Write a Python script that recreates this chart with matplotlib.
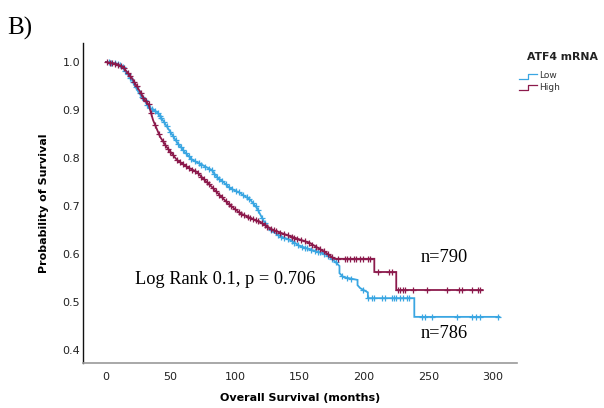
import numpy as np
import matplotlib
matplotlib.use("Agg")
import matplotlib.pyplot as plt
from matplotlib.lines import Line2D

# ---- data ----
low_t = [0, 8, 13, 16, 20, 25, 30, 33, 39.5, 44, 50, 55, 61, 67, 75, 82, 86, 91, 96,
         104, 112, 117, 121, 125, 129.5, 136, 143, 150, 160, 170, 176, 181, 181, 184,
         195, 195, 197, 203, 203, 239, 239, 305]
low_s = [1.0, 0.997, 0.99, 0.978, 0.963, 0.938, 0.92, 0.906, 0.896, 0.879, 0.854, 0.833,
         0.8125, 0.796, 0.785, 0.775, 0.76, 0.75, 0.7375, 0.727, 0.7125, 0.696, 0.675,
         0.656, 0.646, 0.636, 0.629, 0.617, 0.608, 0.60, 0.588, 0.575, 0.56, 0.552,
         0.546, 0.535, 0.529, 0.52, 0.508, 0.508, 0.469, 0.469]

high_t = [0, 8, 13, 20, 26, 30, 33, 36.5, 42, 47, 55, 63, 70.5, 75, 82, 88, 96, 104,
          112, 119, 129.5, 145, 158, 171, 177, 208, 208, 225, 225, 292]
high_s = [1.0, 0.996, 0.99, 0.967, 0.94, 0.921, 0.912, 0.879, 0.844, 0.823, 0.796,
          0.781, 0.771, 0.758, 0.74, 0.723, 0.702, 0.685, 0.675, 0.667, 0.65, 0.635,
          0.623, 0.602, 0.59, 0.59, 0.5625, 0.5625, 0.525, 0.525]

low_cens = [2, 4, 7, 9, 11, 13, 15, 17, 19, 21, 23, 26, 28, 30, 32, 34, 36, 38, 40, 42,
            43, 45, 47, 50, 52, 54, 56, 58, 60, 62, 64, 66, 69, 72, 74, 77, 80, 82, 84,
            86, 88, 90, 93, 95, 98, 101, 103, 106, 109, 111, 114, 116, 118, 121, 123,
            128, 133, 136, 138, 141, 144, 146, 149, 152, 154, 156, 159, 162, 164, 166,
            169, 172, 175, 178, 183, 187, 190, 199, 203, 206, 208, 214, 216,
            222, 223, 225, 228, 230, 233, 235, 245, 247, 253, 272, 284, 287, 290, 304]
high_cens = [1, 3, 5, 7, 9, 12, 14, 17, 19, 22, 24, 27, 29, 31, 33, 35, 38, 41, 44, 46,
             48, 50, 52, 55, 57, 60, 62, 64, 67, 69, 71, 74, 76, 78, 80, 83, 85, 88, 90,
             93, 95, 97, 100, 103, 105, 107, 110, 112, 114, 116, 118, 121, 123, 125,
             128, 130, 132, 135, 138, 141, 144, 146, 148, 151, 154, 157, 160, 163, 166,
             169, 172, 175, 180, 185, 187, 189, 192, 194, 197, 199, 203, 205, 211, 219,
             222, 226, 228, 230, 232, 238, 249, 264, 274, 276, 284, 288, 290]

x_ticks = [0, 50, 100, 150, 200, 250, 300]
y_ticks = [0.4, 0.5, 0.6, 0.7, 0.8, 0.9, 1.0]
series_names = ["Low", "High"]
legend_title = "ATF4 mRNA"

BLUE = "#3aa6e2"
RED = "#8c1a4c"

W, H = 604, 408
fig = plt.figure(figsize=(W / 100, H / 100), dpi=100)
ax = fig.add_axes([83 / W, 1 - 363 / H, (517 - 83) / W, (363 - 43) / H])


def curve_value(t_arr, s_arr, times):
    t_arr = np.asarray(t_arr, float)
    s_arr = np.asarray(s_arr, float)
    out = []
    for t in times:
        idx = np.where(t_arr <= t)[0]
        i = idx[-1]
        if i + 1 < len(t_arr) and t_arr[i + 1] > t_arr[i]:
            f = (t - t_arr[i]) / (t_arr[i + 1] - t_arr[i])
            out.append(s_arr[i] + f * (s_arr[i + 1] - s_arr[i]))
        else:
            out.append(s_arr[i])
    return out


for t, s, c, cens in [(low_t, low_s, BLUE, low_cens), (high_t, high_s, RED, high_cens)]:
    ax.plot(t, s, color=c, lw=1.3, solid_joinstyle="miter")
    ax.plot(cens, curve_value(t, s, cens), ls="none", marker="+", ms=4.5, mew=0.9, color=c)

ax.set_xlim(-17.8, 318.6)
ax.set_ylim(0.3729, 1.0396)
ax.set_xticks(x_ticks)
ax.set_yticks(y_ticks)
ax.set_xticklabels([str(v) for v in x_ticks])
ax.set_yticklabels([f"{v:.1f}" for v in y_ticks])
ax.tick_params(axis="both", length=0, labelsize=8, colors="#222222")
ax.tick_params(axis="x", pad=6.5)
ax.tick_params(axis="y", pad=2)
for sp in ["top", "right"]:
    ax.spines[sp].set_visible(False)
ax.spines["left"].set_color("#111111")
ax.spines["left"].set_linewidth(1.0)
ax.spines["bottom"].set_color("#9a9a9a")
ax.spines["bottom"].set_linewidth(1.2)

ax.set_xlabel("Overall Survival (months)", fontsize=8, fontweight="bold", labelpad=8)
ax.set_ylabel("Probability of Survival", fontsize=8, fontweight="bold", labelpad=10)

serif = ["Liberation Serif", "DejaVu Serif"]
fig.text(135 / W, 1 - 280 / H, "Log Rank 0.1, p = 0.706", family=serif, fontsize=13.2,
         va="center", ha="left")
fig.text(421 / W, 1 - 258 / H, "n=790", family=serif, fontsize=13.2, va="center", ha="left")
fig.text(421 / W, 1 - 334 / H, "n=786", family=serif, fontsize=13.2, va="center", ha="left")
fig.text(7 / W, 1 - 28 / H, "B)", family=serif, fontsize=18, va="center", ha="left")

# legend
fig.text(527 / W, 1 - 57 / H, legend_title, fontsize=7.8, fontweight="bold",
         va="center", ha="left", color="#222222")
for (name, c, yy) in [(series_names[0], BLUE, 76), (series_names[1], RED, 87)]:
    xs = np.array([519, 528, 528, 537]) / W
    ys = 1 - np.array([yy + 3, yy + 3, yy - 2, yy - 2]) / H
    fig.add_artist(Line2D(xs, ys, color=c, lw=0.9, transform=fig.transFigure))
    fig.text(539 / W, 1 - yy / H, name, fontsize=6.5, va="center", ha="left", color="#333333")

fig.savefig("out.png", dpi=100)
